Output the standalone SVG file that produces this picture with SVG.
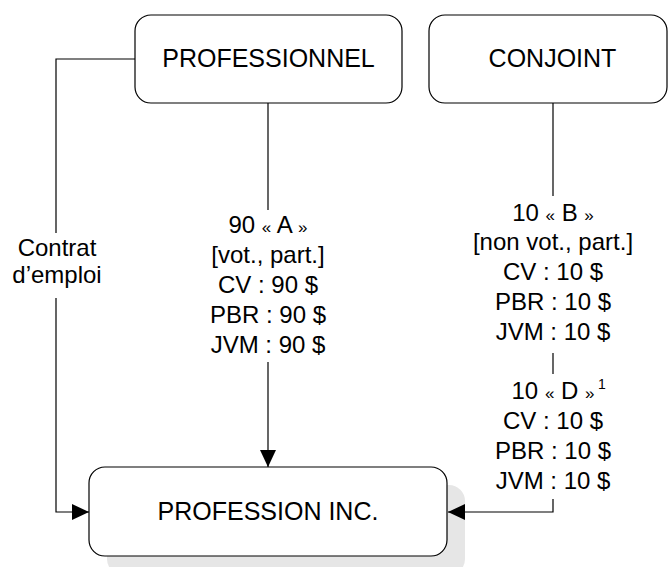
<svg xmlns="http://www.w3.org/2000/svg" width="669" height="567" viewBox="0 0 669 567">
<style>
.box{fill:#fff;stroke:#000;stroke-width:1.2}
.shadow{fill:#e6e6e6;stroke:none}
.t{font-family:"Liberation Sans",Arial,Helvetica,sans-serif;font-size:24px;fill:#000;text-anchor:middle}
.bt{font-family:"Liberation Sans",Arial,Helvetica,sans-serif;font-size:25px;fill:#000;text-anchor:middle}
.g{font-size:17px}
.sup{font-family:"Liberation Sans",Arial,Helvetica,sans-serif;font-size:14px;fill:#000}
.ln{fill:none;stroke:#000;stroke-width:1.2}
</style>
<defs>
<marker id="ah" viewBox="0 0 17 16" refX="17" refY="8" markerWidth="17" markerHeight="16" markerUnits="userSpaceOnUse" orient="auto">
<path d="M0,0 L17,8 L0,16 Z" fill="#000"/>
</marker>
</defs>
<rect fill="#fff" width="669" height="567"/>
<g id="professionnel">
<rect class="box" x="135" y="15" width="267" height="88" rx="16"/>
<text class="bt" x="268.5" y="67">PROFESSIONNEL</text>
</g>
<g id="conjoint">
<rect class="box" x="429" y="15" width="238" height="88" rx="16"/>
<text class="bt" x="552.5" y="67">CONJOINT</text>
</g>
<g id="profession-inc">
<rect class="shadow" x="107" y="485" width="358" height="90" rx="16"/>
<rect class="box" x="89" y="467" width="358" height="89" rx="16"/>
<text class="bt" x="268" y="520">PROFESSION INC.</text>
</g>
<g id="connectors">
<polyline class="ln" points="135,59 56,59 56,233"/>
<polyline class="ln" points="56,298 56,512 89,512" marker-end="url(#ah)"/>
<line class="ln" x1="268" y1="103" x2="268" y2="210"/>
<line class="ln" x1="268" y1="362" x2="268" y2="467" marker-end="url(#ah)"/>
<line class="ln" x1="553" y1="103" x2="553" y2="196"/>
<line class="ln" x1="553" y1="353" x2="553" y2="374"/>
<polyline class="ln" points="553,499 553,512 448,512" marker-end="url(#ah)"/>
</g>
<g id="label-contrat">
<text class="t" x="57" y="256">Contrat</text>
<text class="t" x="57" y="283">d’emploi</text>
</g>
<g id="label-a">
<text class="t" x="268" y="233">90 <tspan class="g">«</tspan> A <tspan class="g">»</tspan></text>
<text class="t" x="268" y="263">[vot., part.]</text>
<text class="t" x="268" y="293">CV : 90 $</text>
<text class="t" x="268" y="323">PBR : 90 $</text>
<text class="t" x="268" y="353">JVM : 90 $</text>
</g>
<g id="label-b">
<text class="t" x="553" y="221">10 <tspan class="g">«</tspan> B <tspan class="g">»</tspan></text>
<text class="t" x="553" y="250">[non vot., part.]</text>
<text class="t" x="553" y="280">CV : 10 $</text>
<text class="t" x="553" y="310">PBR : 10 $</text>
<text class="t" x="553" y="340">JVM : 10 $</text>
</g>
<g id="label-d">
<text class="t" x="553" y="399">10 <tspan class="g">«</tspan> D <tspan class="g">»</tspan></text>
<text class="sup" x="598" y="389">1</text>
<text class="t" x="553" y="429">CV : 10 $</text>
<text class="t" x="553" y="459">PBR : 10 $</text>
<text class="t" x="553" y="489">JVM : 10 $</text>
</g>
</svg>
